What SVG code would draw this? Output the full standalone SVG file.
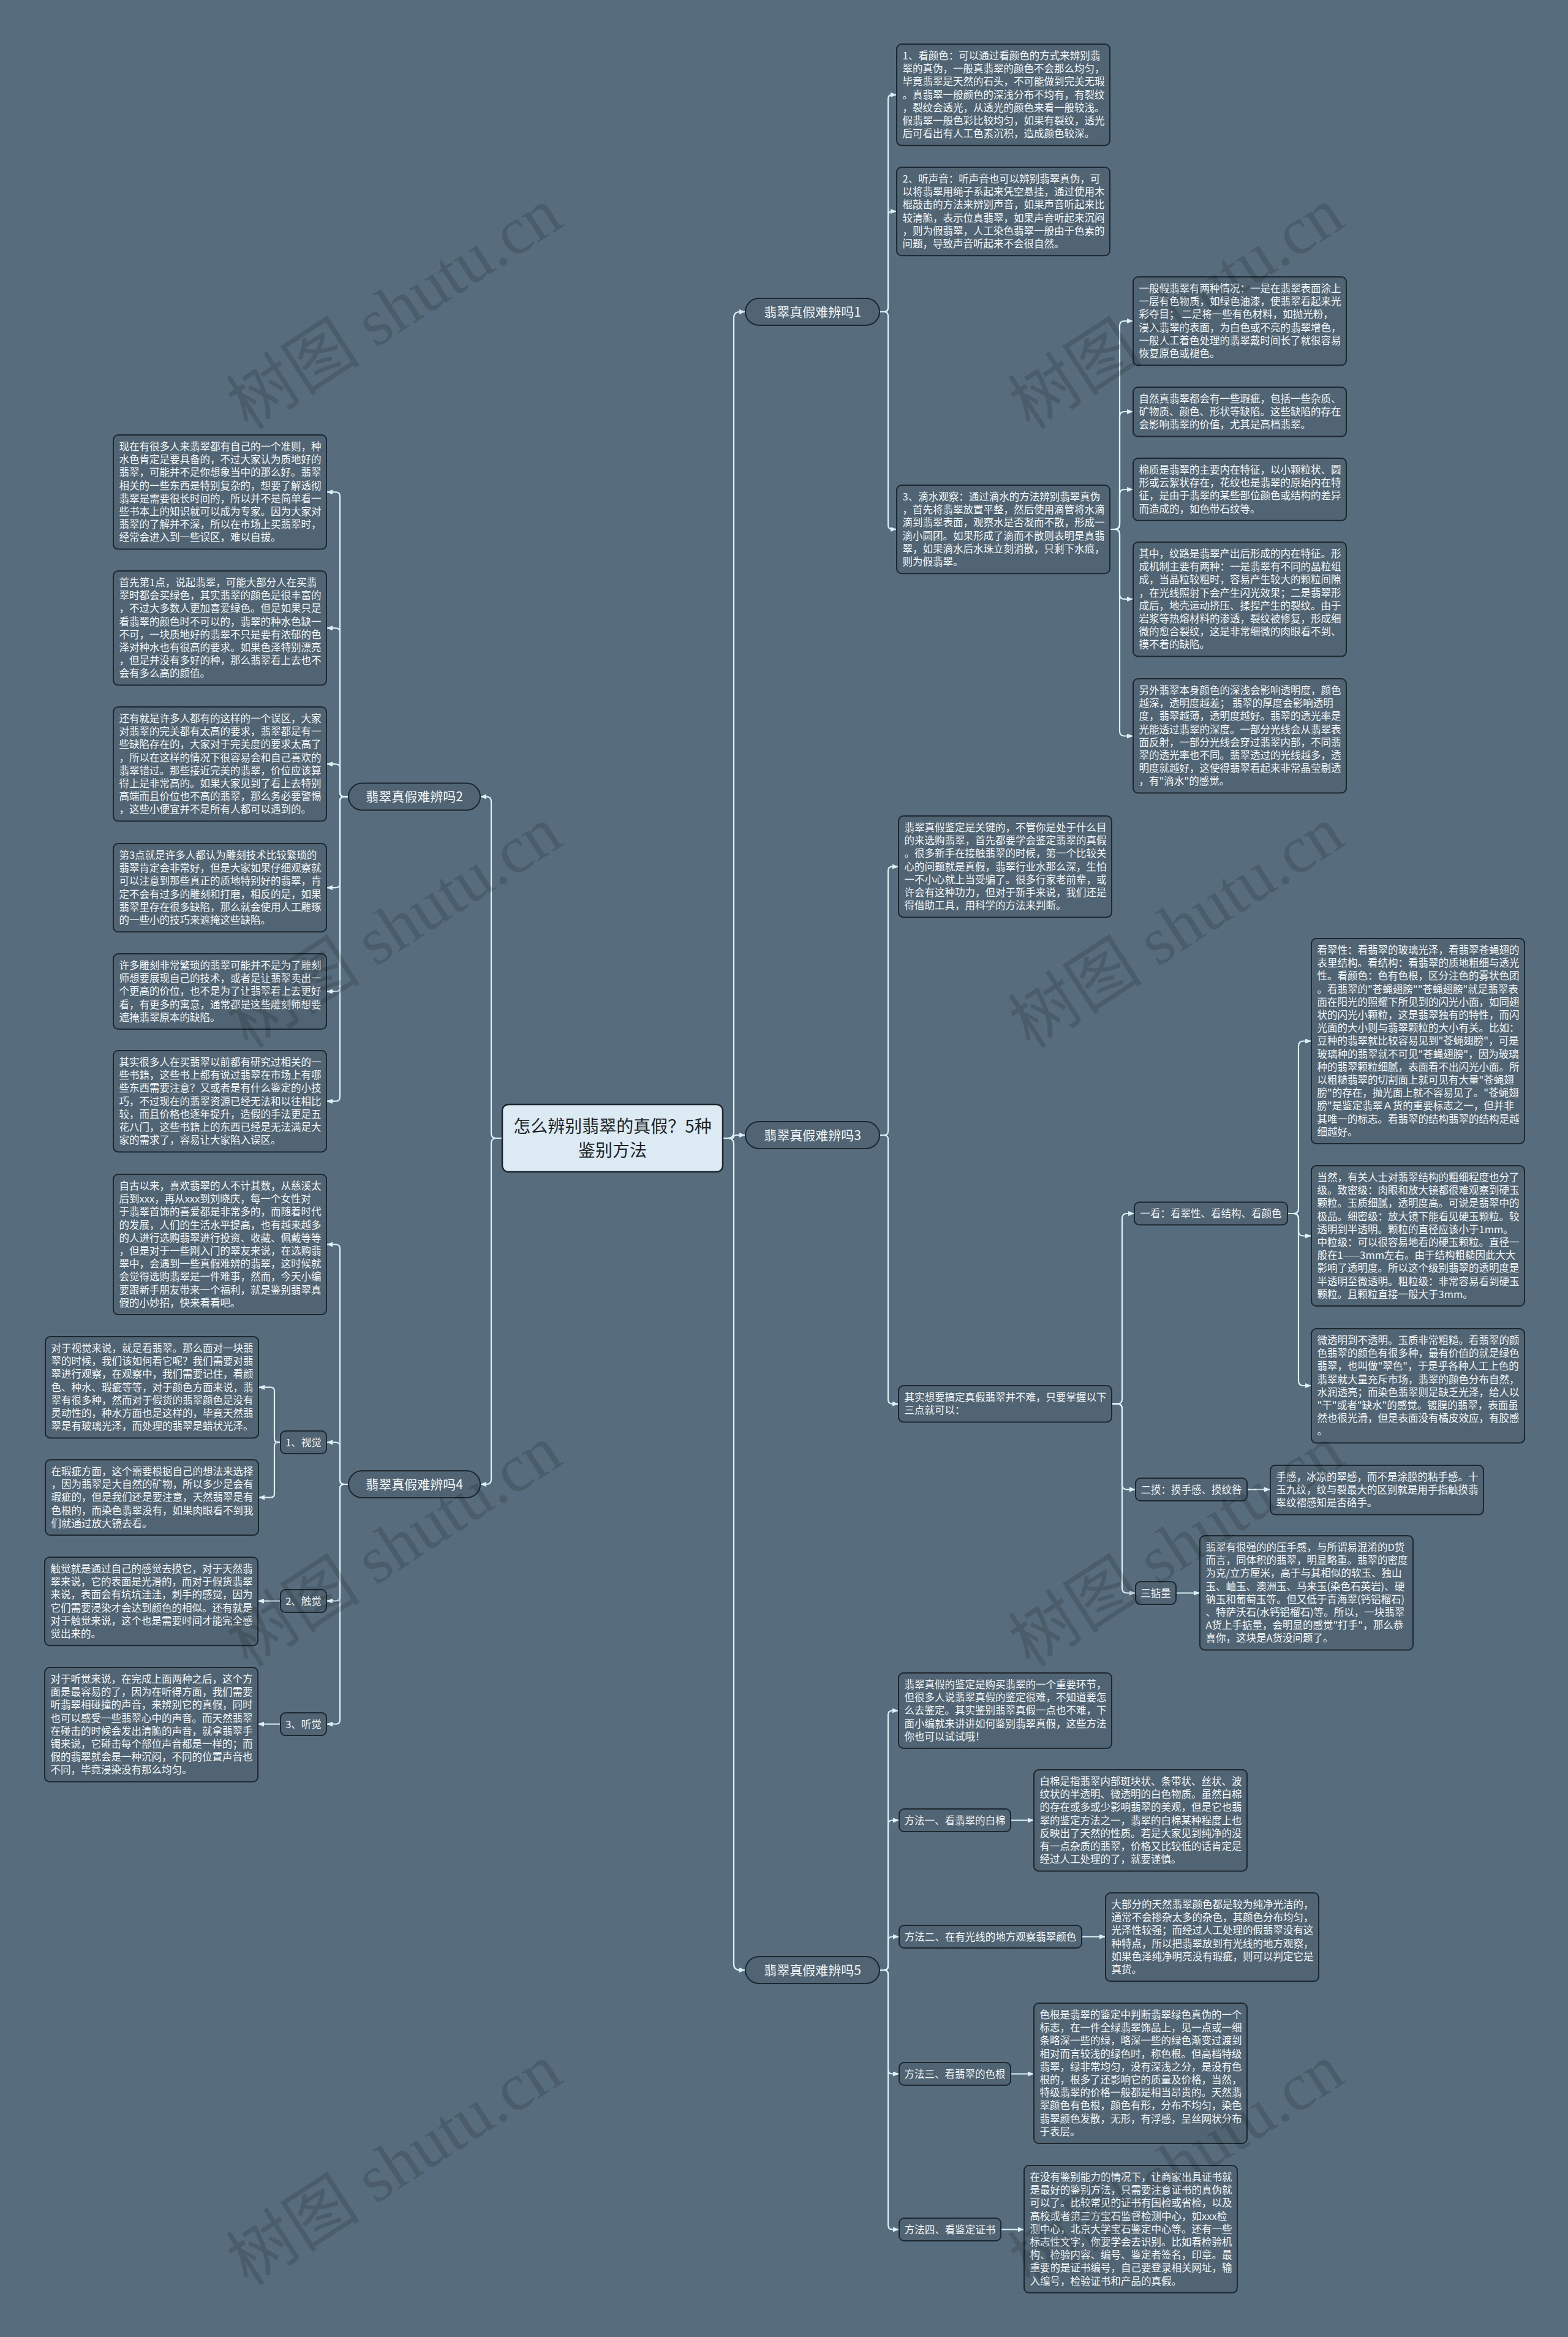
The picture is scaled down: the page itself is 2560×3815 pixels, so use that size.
<svg xmlns="http://www.w3.org/2000/svg" width="2560" height="3815" viewBox="0 0 2560 3815">
<defs>
<marker id="a" viewBox="0 0 10 8" refX="9" refY="4" markerWidth="10" markerHeight="8" markerUnits="userSpaceOnUse" orient="auto"><path d="M0,0 L10,4 L0,8 z" fill="#dcf1f8"/></marker>
<style>
.box{fill:#506473;stroke:#1c2730;stroke-width:2}
.br{fill:#506473;stroke:#1c2730;stroke-width:2}
.t{font-family:"Noto Sans CJK SC","Noto Sans",sans-serif;font-size:16.5px;fill:#f4f7f9}
.lt{font-family:"Noto Sans CJK SC","Noto Sans",sans-serif;font-size:16.5px;fill:#f4f7f9;text-anchor:middle}
.bt{font-family:"Noto Sans CJK SC","Noto Sans",sans-serif;font-size:21px;fill:#f4f7f9;text-anchor:middle}
.ct{font-family:"Noto Sans CJK SC","Noto Sans",sans-serif;font-size:28px;fill:#1e2328;text-anchor:middle}
.c{fill:none;stroke:#dcf1f8;stroke-width:2.2;marker-end:url(#a)}
.wm{font-family:"Liberation Serif","Noto Sans CJK SC",serif;font-size:110px;fill:#000;opacity:0.13;text-anchor:middle}
</style>
</defs>
<rect width="2560" height="3815" fill="#576c7c"/>

<g id="connectors">
<!-- center to right branches -->
<path class="c" d="M1180,1858 H1188 Q1198,1858 1198,1848 V519 Q1198,509 1208,509 H1216"/>
<path class="c" d="M1180,1858 H1194 Q1198,1858 1198,1855.5 Q1198,1853 1202,1853 H1216"/>
<path class="c" d="M1180,1858 H1188 Q1198,1858 1198,1868 V3206 Q1198,3216 1208,3216 H1216"/>
<!-- center to left branches -->
<path class="c" d="M820,1858 H810 Q802,1858 802,1850 V1308.5 Q802,1300.5 794,1300.5 H785"/>
<path class="c" d="M820,1858 H810 Q802,1858 802,1866 V2415 Q802,2423 794,2423 H785"/>
<!-- branch 1 -->
<path class="c" d="M1436,509 H1443 Q1450,509 1450,502 V161.7 Q1450,154.7 1457,154.7 H1463"/>
<path class="c" d="M1436,509 H1443 Q1450,509 1450,502 V352 Q1450,345 1457,345 H1463"/>
<path class="c" d="M1436,509 H1443 Q1450,509 1450,516 V857 Q1450,864 1457,864 H1463"/>
<!-- R1c to S -->
<path class="c" d="M1812,864 H1820 Q1828,864 1828,856 V532 Q1828,524 1836,524 H1849"/>
<path class="c" d="M1812,864 H1820 Q1828,864 1828,856 V680 Q1828,672 1836,672 H1849"/>
<path class="c" d="M1812,864 H1820 Q1828,864 1828,856 V807 Q1828,799 1836,799 H1849"/>
<path class="c" d="M1812,864 H1820 Q1828,864 1828,872 V970 Q1828,978 1836,978 H1849"/>
<path class="c" d="M1812,864 H1820 Q1828,864 1828,872 V1193.5 Q1828,1201.5 1836,1201.5 H1849"/>
<!-- branch 3 -->
<path class="c" d="M1436,1853 H1443 Q1450,1853 1450,1846 V1421.7 Q1450,1414.7 1457,1414.7 H1466"/>
<path class="c" d="M1436,1853 H1443 Q1450,1853 1450,1860 V2284.7 Q1450,2291.7 1457,2291.7 H1466"/>
<!-- R3b to labels -->
<path class="c" d="M1815,2291.7 H1824 Q1832,2291.7 1832,2283.7 V1989 Q1832,1981 1840,1981 H1851"/>
<path class="c" d="M1815,2291.7 H1824 Q1832,2291.7 1832,2299.7 V2423.5 Q1832,2431.5 1840,2431.5 H1853"/>
<path class="c" d="M1815,2291.7 H1824 Q1832,2291.7 1832,2299.7 V2592.5 Q1832,2600.5 1840,2600.5 H1853"/>
<!-- 一看 to K -->
<path class="c" d="M2102,1981 H2112 Q2120,1981 2120,1973 V1707.5 Q2120,1699.5 2128,1699.5 H2140"/>
<path class="c" d="M2102,1981 H2112 Q2120,1981 2120,1989 V2009.5 Q2120,2017.5 2128,2017.5 H2140"/>
<path class="c" d="M2102,1981 H2112 Q2120,1981 2120,1989 V2254 Q2120,2262 2128,2262 H2140"/>
<path class="c" d="M2036,2431.5 H2073"/>
<path class="c" d="M1920,2600.5 H1958"/>
<!-- branch 5 -->
<path class="c" d="M1436,3216 H1443 Q1450,3216 1450,3209 V2799.5 Q1450,2792.5 1457,2792.5 H1466"/>
<path class="c" d="M1436,3216 H1443 Q1450,3216 1450,3209 V2978.5 Q1450,2971.5 1457,2971.5 H1467"/>
<path class="c" d="M1436,3216 H1443 Q1450,3216 1450,3209 V3168.5 Q1450,3161.5 1457,3161.5 H1467"/>
<path class="c" d="M1436,3216 H1443 Q1450,3216 1450,3223 V3378.5 Q1450,3385.5 1457,3385.5 H1467"/>
<path class="c" d="M1436,3216 H1443 Q1450,3216 1450,3223 V3632.5 Q1450,3639.5 1457,3639.5 H1467"/>
<path class="c" d="M1650,2971.5 H1687"/>
<path class="c" d="M1766,3161.5 H1804"/>
<path class="c" d="M1650,3385.5 H1687"/>
<path class="c" d="M1634,3639.5 H1671"/>
<!-- branch 2 -->
<path class="c" d="M569,1300.5 H562 Q555,1300.5 555,1293.5 V810.3 Q555,803.3 548,803.3 H534"/>
<path class="c" d="M569,1300.5 H562 Q555,1300.5 555,1293.5 V1032.3 Q555,1025.3 548,1025.3 H534"/>
<path class="c" d="M569,1300.5 H562 Q555,1300.5 555,1293.5 V1254.3 Q555,1247.3 548,1247.3 H534"/>
<path class="c" d="M569,1300.5 H562 Q555,1300.5 555,1307.5 V1442.1 Q555,1449.1 548,1449.1 H534"/>
<path class="c" d="M569,1300.5 H562 Q555,1300.5 555,1307.5 V1611.5 Q555,1618.5 548,1618.5 H534"/>
<path class="c" d="M569,1300.5 H562 Q555,1300.5 555,1307.5 V1790.7 Q555,1797.7 548,1797.7 H534"/>
<!-- branch 4 -->
<path class="c" d="M569,2423 H562 Q555,2423 555,2416 V2038.5 Q555,2031.5 548,2031.5 H534"/>
<path class="c" d="M569,2423 H562 Q555,2423 555,2416 V2361.5 Q555,2354.5 548,2354.5 H534"/>
<path class="c" d="M569,2423 H562 Q555,2423 555,2430 V2606.5 Q555,2613.5 548,2613.5 H534"/>
<path class="c" d="M569,2423 H562 Q555,2423 555,2430 V2807.5 Q555,2814.5 548,2814.5 H534"/>
<path class="c" d="M458,2354.5 H454 Q448,2354.5 448,2348.5 V2270.7 Q448,2264.7 442,2264.7 H423"/>
<path class="c" d="M458,2354.5 H454 Q448,2354.5 448,2360.5 V2438.5 Q448,2444.5 442,2444.5 H423"/>
<path class="c" d="M458,2613.5 H422"/>
<path class="c" d="M458,2814.5 H422"/>
</g>

<g id="center">
<rect x="820" y="1803" width="360" height="110" rx="10" fill="#dcebf3" stroke="#1c2730" stroke-width="2.5"/>
<text class="ct" x="1000" y="1849">怎么辨别翡翠的真假？5种</text>
<text class="ct" x="1000" y="1888">鉴别方法</text>
</g>

<g id="b1"><rect class="br" x="1217" y="487" width="219" height="44" rx="22"/><text class="bt" x="1326.5" y="516.5">翡翠真假难辨吗1</text></g>
<g id="b2"><rect class="br" x="569" y="1278.5" width="215" height="44" rx="22"/><text class="bt" x="676.5" y="1308">翡翠真假难辨吗2</text></g>
<g id="b3"><rect class="br" x="1217" y="1831" width="219" height="44" rx="22"/><text class="bt" x="1326.5" y="1860.5">翡翠真假难辨吗3</text></g>
<g id="b4"><rect class="br" x="569" y="2401" width="215" height="44" rx="22"/><text class="bt" x="676.5" y="2430.5">翡翠真假难辨吗4</text></g>
<g id="b5"><rect class="br" x="1217" y="3194" width="219" height="44" rx="22"/><text class="bt" x="1326.5" y="3223.5">翡翠真假难辨吗5</text></g>

<!-- Branch 1 -->
<g id="r1a"><rect class="box" x="1464" y="72" width="348" height="165.4" rx="8"/>
<text class="t" y="97"><tspan x="1473.5">1、看颜色：可以通过看颜色的方式来辨别翡</tspan><tspan x="1473.5" dy="21.2">翠的真伪，一般真翡翠的颜色不会那么均匀，</tspan><tspan x="1473.5" dy="21.2">毕竟翡翠是天然的石头，不可能做到完美无瑕</tspan><tspan x="1473.5" dy="21.2">。真翡翠一般颜色的深浅分布不均有，有裂纹</tspan><tspan x="1473.5" dy="21.2">，裂纹会透光，从透光的颜色来看一般较浅。</tspan><tspan x="1473.5" dy="21.2">假翡翠一般色彩比较均匀，如果有裂纹，透光</tspan><tspan x="1473.5" dy="21.2">后可看出有人工色素沉积，造成颜色较深。</tspan></text></g>

<g id="r1b"><rect class="box" x="1464" y="273" width="348" height="144.2" rx="8"/>
<text class="t" y="298"><tspan x="1473.5">2、听声音：听声音也可以辨别翡翠真伪，可</tspan><tspan x="1473.5" dy="21.2">以将翡翠用绳子系起来凭空悬挂，通过使用木</tspan><tspan x="1473.5" dy="21.2">棍敲击的方法来辨别声音，如果声音听起来比</tspan><tspan x="1473.5" dy="21.2">较清脆，表示位真翡翠，如果声音听起来沉闷</tspan><tspan x="1473.5" dy="21.2">，则为假翡翠，人工染色翡翠一般由于色素的</tspan><tspan x="1473.5" dy="21.2">问题，导致声音听起来不会很自然。</tspan></text></g>

<g id="r1c"><rect class="box" x="1464" y="792" width="348" height="144.2" rx="8"/>
<text class="t" y="817"><tspan x="1473.5">3、滴水观察：通过滴水的方法辨别翡翠真伪</tspan><tspan x="1473.5" dy="21.2">，首先将翡翠放置平整，然后使用滴管将水滴</tspan><tspan x="1473.5" dy="21.2">滴到翡翠表面，观察水是否凝而不散，形成一</tspan><tspan x="1473.5" dy="21.2">滴小圆团。如果形成了滴而不散则表明是真翡</tspan><tspan x="1473.5" dy="21.2">翠，如果滴水后水珠立刻消散，只剩下水痕，</tspan><tspan x="1473.5" dy="21.2">则为假翡翠。</tspan></text></g>

<g id="s1"><rect class="box" x="1850" y="452" width="348" height="144.2" rx="8"/>
<text class="t" y="477"><tspan x="1859.5">一般假翡翠有两种情况：一是在翡翠表面涂上</tspan><tspan x="1859.5" dy="21.2">一层有色物质，如绿色油漆，使翡翠看起来光</tspan><tspan x="1859.5" dy="21.2">彩夺目； 二是将一些有色材料，如抛光粉，</tspan><tspan x="1859.5" dy="21.2">浸入翡翠的表面，为白色或不亮的翡翠增色，</tspan><tspan x="1859.5" dy="21.2">一般人工着色处理的翡翠戴时间长了就很容易</tspan><tspan x="1859.5" dy="21.2">恢复原色或褪色。</tspan></text></g>

<g id="s2"><rect class="box" x="1850" y="632" width="348" height="80.6" rx="8"/>
<text class="t" y="657"><tspan x="1859.5">自然真翡翠都会有一些瑕疵，包括一些杂质、</tspan><tspan x="1859.5" dy="21.2">矿物质、颜色、形状等缺陷。这些缺陷的存在</tspan><tspan x="1859.5" dy="21.2">会影响翡翠的价值，尤其是高档翡翠。</tspan></text></g>

<g id="s3"><rect class="box" x="1850" y="748" width="348" height="101.8" rx="8"/>
<text class="t" y="773"><tspan x="1859.5">棉质是翡翠的主要内在特征，以小颗粒状、圆</tspan><tspan x="1859.5" dy="21.2">形或云絮状存在，花纹也是翡翠的原始内在特</tspan><tspan x="1859.5" dy="21.2">征，是由于翡翠的某些部位颜色或结构的差异</tspan><tspan x="1859.5" dy="21.2">而造成的，如色带石纹等。</tspan></text></g>

<g id="s4"><rect class="box" x="1850" y="885" width="348" height="186.6" rx="8"/>
<text class="t" y="910"><tspan x="1859.5">其中，纹路是翡翠产出后形成的内在特征。形</tspan><tspan x="1859.5" dy="21.2">成机制主要有两种：一是翡翠有不同的晶粒组</tspan><tspan x="1859.5" dy="21.2">成，当晶粒较粗时，容易产生较大的颗粒间隙</tspan><tspan x="1859.5" dy="21.2">，在光线照射下会产生闪光效果；二是翡翠形</tspan><tspan x="1859.5" dy="21.2">成后，地壳运动挤压、揉捏产生的裂纹。由于</tspan><tspan x="1859.5" dy="21.2">岩浆等热熔材料的渗透，裂纹被修复，形成细</tspan><tspan x="1859.5" dy="21.2">微的愈合裂纹，这是非常细微的肉眼看不到、</tspan><tspan x="1859.5" dy="21.2">摸不着的缺陷。</tspan></text></g>

<g id="s5"><rect class="box" x="1850" y="1108" width="348" height="186.6" rx="8"/>
<text class="t" y="1133"><tspan x="1859.5">另外翡翠本身颜色的深浅会影响透明度，颜色</tspan><tspan x="1859.5" dy="21.2">越深，透明度越差； 翡翠的厚度会影响透明</tspan><tspan x="1859.5" dy="21.2">度，翡翠越薄，透明度越好。翡翠的透光率是</tspan><tspan x="1859.5" dy="21.2">光能透过翡翠的深度。一部分光线会从翡翠表</tspan><tspan x="1859.5" dy="21.2">面反射，一部分光线会穿过翡翠内部，不同翡</tspan><tspan x="1859.5" dy="21.2">翠的透光率也不同。翡翠透过的光线越多，透</tspan><tspan x="1859.5" dy="21.2">明度就越好，这使得翡翠看起来非常晶莹剔透</tspan><tspan x="1859.5" dy="21.2">，有"滴水"的感觉。</tspan></text></g>

<!-- Branch 3 -->
<g id="r3a"><rect class="box" x="1467" y="1332" width="348" height="165.4" rx="8"/>
<text class="t" y="1357"><tspan x="1476.5">翡翠真假鉴定是关键的，不管你是处于什么目</tspan><tspan x="1476.5" dy="21.2">的来选购翡翠，首先都要学会鉴定翡翠的真假</tspan><tspan x="1476.5" dy="21.2">。很多新手在接触翡翠的时候，第一个比较关</tspan><tspan x="1476.5" dy="21.2">心的问题就是真假，翡翠行业水那么深，生怕</tspan><tspan x="1476.5" dy="21.2">一不小心就上当受骗了。很多行家老前辈，或</tspan><tspan x="1476.5" dy="21.2">许会有这种功力，但对于新手来说，我们还是</tspan><tspan x="1476.5" dy="21.2">得借助工具，用科学的方法来判断。</tspan></text></g>

<g id="r3b"><rect class="box" x="1467" y="2262" width="348" height="59.4" rx="8"/>
<text class="t" y="2287"><tspan x="1476.5">其实想要搞定真假翡翠并不难，只要掌握以下</tspan><tspan x="1476.5" dy="21.2">三点就可以：</tspan></text></g>

<g id="l-yikan"><rect class="box" x="1852" y="1962.5" width="250" height="37" rx="8"/><text class="lt" x="1977" y="1987">一看：看翠性、看结构、看颜色</text></g>

<g id="k1"><rect class="box" x="2141" y="1532" width="348" height="335" rx="8"/>
<text class="t" y="1557"><tspan x="2150.5">看翠性：看翡翠的玻璃光泽，看翡翠苍蝇翅的</tspan><tspan x="2150.5" dy="21.2">表里结构。看结构：看翡翠的质地粗细与透光</tspan><tspan x="2150.5" dy="21.2">性。看颜色：色有色根，区分注色的雾状色团</tspan><tspan x="2150.5" dy="21.2">。看翡翠的"苍蝇翅膀""苍蝇翅膀"就是翡翠表</tspan><tspan x="2150.5" dy="21.2">面在阳光的照耀下所见到的闪光小面，如同翅</tspan><tspan x="2150.5" dy="21.2">状的闪光小颗粒，这是翡翠独有的特性，而闪</tspan><tspan x="2150.5" dy="21.2">光面的大小则与翡翠颗粒的大小有关。比如：</tspan><tspan x="2150.5" dy="21.2">豆种的翡翠就比较容易见到"苍蝇翅膀"，可是</tspan><tspan x="2150.5" dy="21.2">玻璃种的翡翠就不可见"苍蝇翅膀"，因为玻璃</tspan><tspan x="2150.5" dy="21.2">种的翡翠颗粒细腻，表面看不出闪光小面。所</tspan><tspan x="2150.5" dy="21.2">以粗糙翡翠的切割面上就可见有大量"苍蝇翅</tspan><tspan x="2150.5" dy="21.2">膀"的存在，抛光面上就不容易见了。"苍蝇翅</tspan><tspan x="2150.5" dy="21.2">膀"是鉴定翡翠Ａ货的重要标志之一，但并非</tspan><tspan x="2150.5" dy="21.2">其唯一的标志。看翡翠的结构翡翠的结构是越</tspan><tspan x="2150.5" dy="21.2">细越好。</tspan></text></g>

<g id="k2"><rect class="box" x="2141" y="1903" width="348" height="229" rx="8"/>
<text class="t" y="1928"><tspan x="2150.5">当然，有关人士对翡翠结构的粗细程度也分了</tspan><tspan x="2150.5" dy="21.2">级。致密级：肉眼和放大镜都很难观察到硬玉</tspan><tspan x="2150.5" dy="21.2">颗粒。玉质细腻，透明度高。可说是翡翠中的</tspan><tspan x="2150.5" dy="21.2">极品。细密级：放大镜下能看见硬玉颗粒。较</tspan><tspan x="2150.5" dy="21.2">透明到半透明。颗粒的直径应该小于1mm。</tspan><tspan x="2150.5" dy="21.2">中粒级：可以很容易地看的硬玉颗粒。直径一</tspan><tspan x="2150.5" dy="21.2">般在1——3mm左右。由于结构粗糙因此大大</tspan><tspan x="2150.5" dy="21.2">影响了透明度。所以这个级别翡翠的透明度是</tspan><tspan x="2150.5" dy="21.2">半透明至微透明。粗粒级：非常容易看到硬玉</tspan><tspan x="2150.5" dy="21.2">颗粒。且颗粒直接一般大于3mm。</tspan></text></g>

<g id="k3"><rect class="box" x="2141" y="2169" width="348" height="186.6" rx="8"/>
<text class="t" y="2194"><tspan x="2150.5">微透明到不透明。玉质非常粗糙。看翡翠的颜</tspan><tspan x="2150.5" dy="21.2">色翡翠的颜色有很多种，最有价值的就是绿色</tspan><tspan x="2150.5" dy="21.2">翡翠，也叫做"翠色"，于是乎各种人工上色的</tspan><tspan x="2150.5" dy="21.2">翡翠就大量充斥市场，翡翠的颜色分布自然，</tspan><tspan x="2150.5" dy="21.2">水润透亮；而染色翡翠则是缺乏光泽，给人以</tspan><tspan x="2150.5" dy="21.2">"干"或者"缺水"的感觉。镀膜的翡翠，表面虽</tspan><tspan x="2150.5" dy="21.2">然也很光滑，但是表面没有橘皮效应，有胶感</tspan><tspan x="2150.5" dy="21.2">。</tspan></text></g>

<g id="l-ermo"><rect class="box" x="1854" y="2413" width="182" height="37" rx="8"/><text class="lt" x="1945" y="2437.5">二摸：摸手感、摸纹咎</text></g>
<g id="shougan"><rect class="box" x="2074" y="2392" width="348" height="80.6" rx="8"/>
<text class="t" y="2417"><tspan x="2083.5">手感，冰凉的翠感，而不是涂膜的粘手感。十</tspan><tspan x="2083.5" dy="21.2">玉九纹，纹与裂最大的区别就是用手指触摸翡</tspan><tspan x="2083.5" dy="21.2">翠纹褶感知是否硌手。</tspan></text></g>

<g id="l-sandianliang"><rect class="box" x="1854" y="2582" width="66" height="37" rx="8"/><text class="lt" x="1887" y="2606.5">三掂量</text></g>
<g id="dianliang"><rect class="box" x="1959" y="2507" width="348" height="186.6" rx="8"/>
<text class="t" y="2532"><tspan x="1968.5">翡翠有很强的的压手感，与所谓易混淆的D货</tspan><tspan x="1968.5" dy="21.2">而言，同体积的翡翠，明显略重。翡翠的密度</tspan><tspan x="1968.5" dy="21.2">为克/立方厘米，高于与其相似的软玉、独山</tspan><tspan x="1968.5" dy="21.2">玉、岫玉、澳洲玉、马来玉(染色石英岩)、硬</tspan><tspan x="1968.5" dy="21.2">钠玉和葡萄玉等。但又低于青海翠(钙铝榴石)</tspan><tspan x="1968.5" dy="21.2">、特萨沃石(水钙铝榴石)等。所以，一块翡翠</tspan><tspan x="1968.5" dy="21.2">A货上手掂量，会明显的感觉"打手"，那么恭</tspan><tspan x="1968.5" dy="21.2">喜你，这块是A货没问题了。</tspan></text></g>

<!-- Branch 5 -->
<g id="r5a"><rect class="box" x="1467" y="2731" width="348" height="123" rx="8"/>
<text class="t" y="2756"><tspan x="1476.5">翡翠真假的鉴定是购买翡翠的一个重要环节，</tspan><tspan x="1476.5" dy="21.2">但很多人说翡翠真假的鉴定很难，不知道要怎</tspan><tspan x="1476.5" dy="21.2">么去鉴定。其实鉴别翡翠真假一点也不难，下</tspan><tspan x="1476.5" dy="21.2">面小编就来讲讲如何鉴别翡翠真假，这些方法</tspan><tspan x="1476.5" dy="21.2">你也可以试试哦！</tspan></text></g>

<g id="m1"><rect class="box" x="1468" y="2953" width="182" height="37" rx="8"/><text class="lt" x="1559" y="2977.5">方法一、看翡翠的白棉</text></g>
<g id="baimian"><rect class="box" x="1688" y="2889" width="348" height="165.4" rx="8"/>
<text class="t" y="2914"><tspan x="1697.5">白棉是指翡翠内部斑块状、条带状、丝状、波</tspan><tspan x="1697.5" dy="21.2">纹状的半透明、微透明的白色物质。虽然白棉</tspan><tspan x="1697.5" dy="21.2">的存在或多或少影响翡翠的美观，但是它也翡</tspan><tspan x="1697.5" dy="21.2">翠的鉴定方法之一，翡翠的白棉某种程度上也</tspan><tspan x="1697.5" dy="21.2">反映出了天然的性质。若是大家见到纯净的没</tspan><tspan x="1697.5" dy="21.2">有一点杂质的翡翠，价格又比较低的话肯定是</tspan><tspan x="1697.5" dy="21.2">经过人工处理的了，就要谨慎。</tspan></text></g>

<g id="m2"><rect class="box" x="1468" y="3143" width="298" height="37" rx="8"/><text class="lt" x="1617" y="3167.5">方法二、在有光线的地方观察翡翠颜色</text></g>
<g id="yanse"><rect class="box" x="1805" y="3090" width="348" height="144.2" rx="8"/>
<text class="t" y="3115"><tspan x="1814.5">大部分的天然翡翠颜色都是较为纯净光洁的，</tspan><tspan x="1814.5" dy="21.2">通常不会掺杂太多的杂色，其颜色分布均匀，</tspan><tspan x="1814.5" dy="21.2">光泽性较强；而经过人工处理的假翡翠没有这</tspan><tspan x="1814.5" dy="21.2">种特点，所以把翡翠放到有光线的地方观察，</tspan><tspan x="1814.5" dy="21.2">如果色泽纯净明亮没有瑕疵，则可以判定它是</tspan><tspan x="1814.5" dy="21.2">真货。</tspan></text></g>

<g id="m3"><rect class="box" x="1468" y="3367" width="182" height="37" rx="8"/><text class="lt" x="1559" y="3391.5">方法三、看翡翠的色根</text></g>
<g id="segen"><rect class="box" x="1688" y="3270" width="348" height="229" rx="8"/>
<text class="t" y="3295"><tspan x="1697.5">色根是翡翠的鉴定中判断翡翠绿色真伪的一个</tspan><tspan x="1697.5" dy="21.2">标志，在一件全绿翡翠饰品上，见一点或一细</tspan><tspan x="1697.5" dy="21.2">条略深一些的绿，略深一些的绿色渐变过渡到</tspan><tspan x="1697.5" dy="21.2">相对而言较浅的绿色时，称色根。但高档特级</tspan><tspan x="1697.5" dy="21.2">翡翠，绿非常均匀，没有深浅之分，是没有色</tspan><tspan x="1697.5" dy="21.2">根的，根多了还影响它的质量及价格，当然，</tspan><tspan x="1697.5" dy="21.2">特级翡翠的价格一般都是相当昂贵的。天然翡</tspan><tspan x="1697.5" dy="21.2">翠颜色有色根，颜色有形，分布不均匀，染色</tspan><tspan x="1697.5" dy="21.2">翡翠颜色发散，无形，有浮感，呈丝网状分布</tspan><tspan x="1697.5" dy="21.2">于表层。</tspan></text></g>

<g id="m4"><rect class="box" x="1468" y="3621" width="166" height="37" rx="8"/><text class="lt" x="1551" y="3645.5">方法四、看鉴定证书</text></g>
<g id="zhengshu"><rect class="box" x="1672" y="3535" width="348" height="207.8" rx="8"/>
<text class="t" y="3560"><tspan x="1681.5">在没有鉴别能力的情况下，让商家出具证书就</tspan><tspan x="1681.5" dy="21.2">是最好的鉴别方法，只需要注意证书的真伪就</tspan><tspan x="1681.5" dy="21.2">可以了。比较常见的证书有国检或省检，以及</tspan><tspan x="1681.5" dy="21.2">高校或者第三方宝石监督检测中心，如xxx检</tspan><tspan x="1681.5" dy="21.2">测中心，北京大学宝石鉴定中心等。还有一些</tspan><tspan x="1681.5" dy="21.2">标志性文字，你要学会去识别。比如看检验机</tspan><tspan x="1681.5" dy="21.2">构、检验内容、编号、鉴定者签名，印章。最</tspan><tspan x="1681.5" dy="21.2">重要的是证书编号，自己要登录相关网址，输</tspan><tspan x="1681.5" dy="21.2">入编号，检验证书和产品的真假。</tspan></text></g>

<!-- Branch 2 -->
<g id="l2a"><rect class="box" x="185" y="710" width="348" height="186.6" rx="8"/>
<text class="t" y="735"><tspan x="194.5">现在有很多人来翡翠都有自己的一个准则，种</tspan><tspan x="194.5" dy="21.2">水色肯定是要具备的，不过大家认为质地好的</tspan><tspan x="194.5" dy="21.2">翡翠，可能并不是你想象当中的那么好。翡翠</tspan><tspan x="194.5" dy="21.2">相关的一些东西是特别复杂的，想要了解透彻</tspan><tspan x="194.5" dy="21.2">翡翠是需要很长时间的，所以并不是简单看一</tspan><tspan x="194.5" dy="21.2">些书本上的知识就可以成为专家。因为大家对</tspan><tspan x="194.5" dy="21.2">翡翠的了解并不深，所以在市场上买翡翠时，</tspan><tspan x="194.5" dy="21.2">经常会进入到一些误区，难以自拔。</tspan></text></g>

<g id="l2b"><rect class="box" x="185" y="932" width="348" height="186.6" rx="8"/>
<text class="t" y="957"><tspan x="194.5">首先第1点，说起翡翠，可能大部分人在买翡</tspan><tspan x="194.5" dy="21.2">翠时都会买绿色，其实翡翠的颜色是很丰富的</tspan><tspan x="194.5" dy="21.2">，不过大多数人更加喜爱绿色。但是如果只是</tspan><tspan x="194.5" dy="21.2">看翡翠的颜色时不可以的，翡翠的种水色缺一</tspan><tspan x="194.5" dy="21.2">不可，一块质地好的翡翠不只是要有浓郁的色</tspan><tspan x="194.5" dy="21.2">泽对种水也有很高的要求。如果色泽特别漂亮</tspan><tspan x="194.5" dy="21.2">，但是并没有多好的种，那么翡翠看上去也不</tspan><tspan x="194.5" dy="21.2">会有多么高的颜值。</tspan></text></g>

<g id="l2c"><rect class="box" x="185" y="1154" width="348" height="186.6" rx="8"/>
<text class="t" y="1179"><tspan x="194.5">还有就是许多人都有的这样的一个误区，大家</tspan><tspan x="194.5" dy="21.2">对翡翠的完美都有太高的要求，翡翠都是有一</tspan><tspan x="194.5" dy="21.2">些缺陷存在的，大家对于完美度的要求太高了</tspan><tspan x="194.5" dy="21.2">，所以在这样的情况下很容易会和自己喜欢的</tspan><tspan x="194.5" dy="21.2">翡翠错过。那些接近完美的翡翠，价位应该算</tspan><tspan x="194.5" dy="21.2">得上是非常高的。如果大家见到了看上去特别</tspan><tspan x="194.5" dy="21.2">高端而且价位也不高的翡翠，那么务必要警惕</tspan><tspan x="194.5" dy="21.2">，这些小便宜并不是所有人都可以遇到的。</tspan></text></g>

<g id="l2d"><rect class="box" x="185" y="1377" width="348" height="144.2" rx="8"/>
<text class="t" y="1402"><tspan x="194.5">第3点就是许多人都认为雕刻技术比较繁琐的</tspan><tspan x="194.5" dy="21.2">翡翠肯定会非常好，但是大家如果仔细观察就</tspan><tspan x="194.5" dy="21.2">可以注意到那些真正的质地特别好的翡翠，肯</tspan><tspan x="194.5" dy="21.2">定不会有过多的雕刻和打磨，相反的是，如果</tspan><tspan x="194.5" dy="21.2">翡翠里存在很多缺陷，那么就会使用人工雕琢</tspan><tspan x="194.5" dy="21.2">的一些小的技巧来遮掩这些缺陷。</tspan></text></g>

<g id="l2e"><rect class="box" x="185" y="1557" width="348" height="123" rx="8"/>
<text class="t" y="1582"><tspan x="194.5">许多雕刻非常繁琐的翡翠可能并不是为了雕刻</tspan><tspan x="194.5" dy="21.2">师想要展现自己的技术，或者是让翡翠卖出一</tspan><tspan x="194.5" dy="21.2">个更高的价位，也不是为了让翡翠看上去更好</tspan><tspan x="194.5" dy="21.2">看，有更多的寓意，通常都是这些雕刻师想要</tspan><tspan x="194.5" dy="21.2">遮掩翡翠原本的缺陷。</tspan></text></g>

<g id="l2f"><rect class="box" x="185" y="1715" width="348" height="165.4" rx="8"/>
<text class="t" y="1740"><tspan x="194.5">其实很多人在买翡翠以前都有研究过相关的一</tspan><tspan x="194.5" dy="21.2">些书籍，这些书上都有说过翡翠在市场上有哪</tspan><tspan x="194.5" dy="21.2">些东西需要注意？又或者是有什么鉴定的小技</tspan><tspan x="194.5" dy="21.2">巧，不过现在的翡翠资源已经无法和以往相比</tspan><tspan x="194.5" dy="21.2">较，而且价格也逐年提升，造假的手法更是五</tspan><tspan x="194.5" dy="21.2">花八门，这些书籍上的东西已经是无法满足大</tspan><tspan x="194.5" dy="21.2">家的需求了，容易让大家陷入误区。</tspan></text></g>

<!-- Branch 4 -->
<g id="l4a"><rect class="box" x="185" y="1917" width="348" height="229" rx="8"/>
<text class="t" y="1942"><tspan x="194.5">自古以来，喜欢翡翠的人不计其数，从慈溪太</tspan><tspan x="194.5" dy="21.2">后到xxx，再从xxx到刘晓庆，每一个女性对</tspan><tspan x="194.5" dy="21.2">于翡翠首饰的喜爱都是非常多的，而随着时代</tspan><tspan x="194.5" dy="21.2">的发展，人们的生活水平提高，也有越来越多</tspan><tspan x="194.5" dy="21.2">的人进行选购翡翠进行投资、收藏、佩戴等等</tspan><tspan x="194.5" dy="21.2">，但是对于一些刚入门的翠友来说，在选购翡</tspan><tspan x="194.5" dy="21.2">翠中，会遇到一些真假难辨的翡翠，这时候就</tspan><tspan x="194.5" dy="21.2">会觉得选购翡翠是一件难事，然而，今天小编</tspan><tspan x="194.5" dy="21.2">要跟新手朋友带来一个福利，就是鉴别翡翠真</tspan><tspan x="194.5" dy="21.2">假的小妙招，快来看看吧。</tspan></text></g>

<g id="l-shijue"><rect class="box" x="458" y="2336" width="75" height="37" rx="8"/><text class="lt" x="495.5" y="2360.5">1、视觉</text></g>
<g id="v1"><rect class="box" x="74" y="2182" width="348" height="165.4" rx="8"/>
<text class="t" y="2207"><tspan x="83.5">对于视觉来说，就是看翡翠。那么面对一块翡</tspan><tspan x="83.5" dy="21.2">翠的时候，我们该如何看它呢？我们需要对翡</tspan><tspan x="83.5" dy="21.2">翠进行观察，在观察中，我们需要记住，看颜</tspan><tspan x="83.5" dy="21.2">色、种水、瑕疵等等，对于颜色方面来说，翡</tspan><tspan x="83.5" dy="21.2">翠有很多种，然而对于假货的翡翠颜色是没有</tspan><tspan x="83.5" dy="21.2">灵动性的，种水方面也是这样的，毕竟天然翡</tspan><tspan x="83.5" dy="21.2">翠是有玻璃光泽，而处理的翡翠是蜡状光泽。</tspan></text></g>
<g id="v2"><rect class="box" x="74" y="2383" width="348" height="123" rx="8"/>
<text class="t" y="2408"><tspan x="83.5">在瑕疵方面，这个需要根据自己的想法来选择</tspan><tspan x="83.5" dy="21.2">，因为翡翠是大自然的矿物，所以多少是会有</tspan><tspan x="83.5" dy="21.2">瑕疵的，但是我们还是要注意，天然翡翠是有</tspan><tspan x="83.5" dy="21.2">色根的，而染色翡翠没有，如果肉眼看不到我</tspan><tspan x="83.5" dy="21.2">们就通过放大镜去看。</tspan></text></g>

<g id="l-chujue"><rect class="box" x="458" y="2595" width="75" height="37" rx="8"/><text class="lt" x="495.5" y="2619.5">2、触觉</text></g>
<g id="tbox"><rect class="box" x="73" y="2542" width="348" height="144.2" rx="8"/>
<text class="t" y="2567"><tspan x="82.5">触觉就是通过自己的感觉去摸它，对于天然翡</tspan><tspan x="82.5" dy="21.2">翠来说，它的表面是光滑的，而对于假货翡翠</tspan><tspan x="82.5" dy="21.2">来说，表面会有坑坑洼洼，刺手的感觉，因为</tspan><tspan x="82.5" dy="21.2">它们需要浸染才会达到颜色的相似。还有就是</tspan><tspan x="82.5" dy="21.2">对于触觉来说，这个也是需要时间才能完全感</tspan><tspan x="82.5" dy="21.2">觉出来的。</tspan></text></g>

<g id="l-tingjue"><rect class="box" x="458" y="2796" width="75" height="37" rx="8"/><text class="lt" x="495.5" y="2820.5">3、听觉</text></g>
<g id="hbox"><rect class="box" x="73" y="2722" width="348" height="186.6" rx="8"/>
<text class="t" y="2747"><tspan x="82.5">对于听觉来说，在完成上面两种之后，这个方</tspan><tspan x="82.5" dy="21.2">面是最容易的了，因为在听得方面，我们需要</tspan><tspan x="82.5" dy="21.2">听翡翠相碰撞的声音，来辨别它的真假，同时</tspan><tspan x="82.5" dy="21.2">也可以感受一些翡翠心中的声音。而天然翡翠</tspan><tspan x="82.5" dy="21.2">在碰击的时候会发出清脆的声音，就拿翡翠手</tspan><tspan x="82.5" dy="21.2">镯来说，它碰击每个部位声音都是一样的；而</tspan><tspan x="82.5" dy="21.2">假的翡翠就会是一种沉闷，不同的位置声音也</tspan><tspan x="82.5" dy="21.2">不同，毕竟浸染没有那么均匀。</tspan></text></g>

<g id="watermarks">
<text class="wm" transform="translate(645,506) rotate(-33)" y="35">树图 shutu.cn</text>
<text class="wm" transform="translate(1922,506) rotate(-33)" y="35">树图 shutu.cn</text>
<text class="wm" transform="translate(645,1516) rotate(-33)" y="35">树图 shutu.cn</text>
<text class="wm" transform="translate(1922,1516) rotate(-33)" y="35">树图 shutu.cn</text>
<text class="wm" transform="translate(645,2526) rotate(-33)" y="35">树图 shutu.cn</text>
<text class="wm" transform="translate(1922,2526) rotate(-33)" y="35">树图 shutu.cn</text>
<text class="wm" transform="translate(645,3536) rotate(-33)" y="35">树图 shutu.cn</text>
<text class="wm" transform="translate(1922,3536) rotate(-33)" y="35">树图 shutu.cn</text>
</g>
</svg>
